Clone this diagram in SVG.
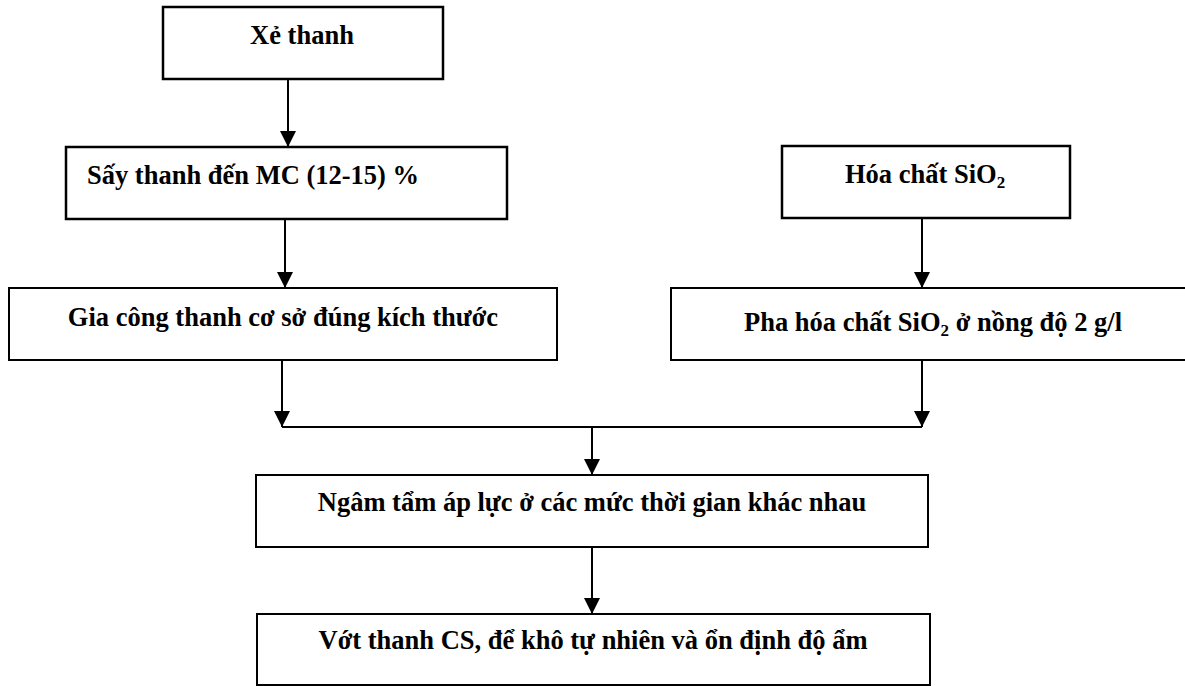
<svg xmlns="http://www.w3.org/2000/svg" width="1185" height="686" viewBox="0 0 1185 686">
<style>
.box{fill:#fff;stroke:#000;stroke-width:2}
.bx{fill:#fff;stroke:#000;stroke-width:2.5}
.t{font-family:"Liberation Serif","Times New Roman",serif;font-weight:bold;font-size:26.5px;fill:#000}
.c{stroke:#000;stroke-width:2;fill:none}
</style>
<defs>
<marker id="ah" markerUnits="userSpaceOnUse" markerWidth="16" markerHeight="16" viewBox="0 0 16 16" refX="16" refY="8" orient="auto">
<path d="M0,0 L16,8 L0,16 Z" fill="#000"/>
</marker>
</defs>
<rect width="1185" height="686" fill="#fff"/>
<g id="connectors">
<line class="c" x1="288" y1="79" x2="288" y2="147" marker-end="url(#ah)"/>
<line class="c" x1="285" y1="219" x2="285" y2="288" marker-end="url(#ah)"/>
<line class="c" x1="922" y1="218" x2="922" y2="288" marker-end="url(#ah)"/>
<line class="c" x1="282" y1="360" x2="282" y2="427" marker-end="url(#ah)"/>
<line class="c" x1="922" y1="360" x2="922" y2="427" marker-end="url(#ah)"/>
<line class="c" x1="282" y1="427" x2="922" y2="427"/>
<line class="c" x1="592" y1="427" x2="592" y2="475" marker-end="url(#ah)"/>
<line class="c" x1="592" y1="547" x2="592" y2="614" marker-end="url(#ah)"/>
</g>
<g id="xe-thanh">
<rect class="bx" x="163" y="7" width="280" height="72"/>
<text class="t" x="302" y="44" text-anchor="middle">Xẻ thanh</text>
</g>
<g id="say-thanh">
<rect class="bx" x="66" y="147" width="441" height="72"/>
<text class="t" x="87" y="184">Sấy thanh đến MC (12-15) %</text>
</g>
<g id="hoa-chat">
<rect class="bx" x="782" y="146" width="288" height="72"/>
<text class="t" x="845" y="183">Hóa chất SiO<tspan font-size="17" dy="5">2</tspan></text>
</g>
<g id="gia-cong">
<rect class="box" x="9" y="288" width="548" height="72"/>
<text class="t" x="283" y="326" text-anchor="middle">Gia công thanh cơ sở đúng kích thước</text>
</g>
<g id="pha-hoa-chat">
<rect class="box" x="671" y="288" width="530" height="72"/>
<text class="t" x="744" y="331">Pha hóa chất SiO<tspan font-size="17" dy="5">2</tspan><tspan dy="-5"> ở nồng độ 2 g/l</tspan></text>
</g>
<g id="ngam-tam">
<rect class="box" x="256" y="475" width="672" height="72"/>
<text class="t" x="592" y="511" text-anchor="middle">Ngâm tẩm áp lực ở các mức thời gian khác nhau</text>
</g>
<g id="vot-thanh">
<rect class="box" x="257" y="614" width="673" height="71"/>
<text class="t" x="593" y="649" text-anchor="middle">Vớt thanh CS, để khô tự nhiên và ổn định độ ẩm</text>
</g>
</svg>
